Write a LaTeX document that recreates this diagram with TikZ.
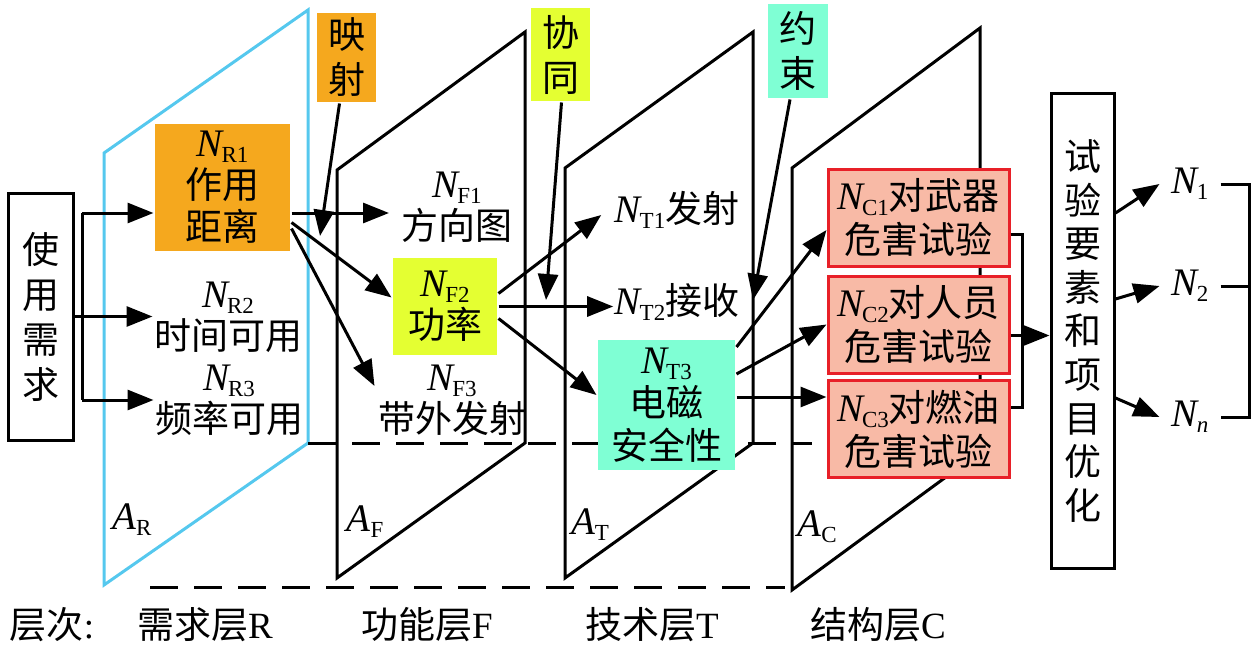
\documentclass[tikz,border=0pt]{standalone}
\usepackage{fontspec}
\setmainfont{Liberation Serif}
\newfontfamily\cjk{Noto Sans CJK SC}
\usetikzlibrary{arrows.meta,calc}
\definecolor{orgC}{RGB}{245,168,30}
\definecolor{yelC}{RGB}{228,255,50}
\definecolor{aquC}{RGB}{127,255,212}
\definecolor{salC}{RGB}{248,186,166}
\definecolor{redC}{RGB}{232,32,40}
\definecolor{cyaC}{RGB}{85,200,238}
\newcommand{\Nx}[1]{{\rmfamily\itshape\fontsize{39}{42}\selectfont N}\kern-1pt\raisebox{-6pt}{\rmfamily\fontsize{23}{23}\selectfont #1}}
\newcommand{\Ax}[1]{{\rmfamily\itshape\fontsize{39}{42}\selectfont A}\raisebox{-6pt}{\rmfamily\fontsize{23}{23}\selectfont #1}}
\begin{document}
\begin{tikzpicture}[x=1pt,y=-1pt,line width=3pt,
  every node/.style={font=\fontsize{37}{42}\selectfont, inner sep=0pt, align=center},
  arr/.style={-{Triangle[length=26pt,width=20pt]}, line width=3pt},
  dsh/.style={dash pattern=on 28pt off 16pt, line width=3pt},
  vtxt/.style={font=\fontsize{37}{45}\selectfont\cjk},
  cbox/.style={fill=salC, draw=redC, line width=3pt, minimum width=181pt, minimum height=97pt, font=\fontsize{37}{44}\selectfont}]
\useasboundingbox (0,0) rectangle (1260,650);
% planes
\draw[cyaC] (104,585) -- (104,153) -- (308,10) -- (308,443) -- cycle;
\draw (337,578) -- (337,170) -- (525,32) -- (525,443) -- cycle;
\draw (565,578) -- (565,168) -- (753,32) -- (753,443) -- cycle;
\draw (792,590) -- (792,168) -- (980,28) -- (980,452) -- cycle;
% dashed lines
\draw[dsh] (308,443) -- (812,443);
\draw[dsh] (150,587) -- (785,587);
% nodes
\node[draw, minimum width=65pt, minimum height=247pt, vtxt] (use) at (40.5,316.5) {使\\用\\需\\求};
\node[fill=orgC, minimum width=135pt, minimum height=127pt] (nr1) at (222.5,187.5) {\Nx{R1}\\{\cjk 作用}\\{\cjk 距离}};
\node (nr2) at (228,317) {\Nx{R2}\\{\cjk 时间可用}};
\node (nr3) at (229,400) {\Nx{R3}\\{\cjk 频率可用}};
\node[fill=orgC, minimum width=59pt, minimum height=89pt, vtxt] (ys) at (346.5,57.5) {映\\射};
\node (nf1) at (457,207) {\Nx{F1}\\{\cjk 方向图}};
\node[fill=yelC, minimum width=104pt, minimum height=97pt] (nf2) at (445,306.5) {\Nx{F2}\\{\cjk 功率}};
\node (nf3) at (452,400) {\Nx{F3}\\{\cjk 带外发射}};
\node[fill=yelC, minimum width=59pt, minimum height=93pt, vtxt] (xt) at (560.5,54.5) {协\\同};
\node (nt1) at (677,210) {\Nx{T1}{\cjk 发射}};
\node (nt2) at (677,302) {\Nx{T2}{\cjk 接收}};
\node[fill=aquC, minimum width=137pt, minimum height=130pt, font=\fontsize{37}{43}\selectfont] (nt3) at (666.5,405) {\Nx{T3}\\{\cjk 电磁}\\{\cjk 安全性}};
\node[fill=aquC, minimum width=60pt, minimum height=94pt, vtxt] (ys2) at (798,51) {约\\束};
\node[cbox] (c1) at (918.5,218) {\Nx{C1}{\cjk 对武器}\\{\cjk 危害试验}};
\node[cbox] (c2) at (918.5,324.5) {\Nx{C2}{\cjk 对人员}\\{\cjk 危害试验}};
\node[cbox] (c3) at (918.5,429) {\Nx{C3}{\cjk 对燃油}\\{\cjk 危害试验}};
\node[draw, minimum width=63pt, minimum height=474pt, font=\fontsize{37}{43.6}\selectfont\cjk] (opt) at (1082.5,331) {试\\验\\要\\素\\和\\项\\目\\优\\化};
\node[minimum width=58pt] (n1) at (1190,184) {\Nx{1}};
\node[minimum width=58pt] (n2) at (1190,286) {\Nx{2}};
\node[minimum width=58pt] (nn) at (1190,417) {\Nx{\itshape n}};
% plane labels
\node (ar) at (132,520) {\Ax{R}};
\node (af) at (365,522) {\Ax{F}};
\node (at) at (590,525) {\Ax{T}};
\node (ac) at (817,527) {\Ax{C}};
% bottom labels
\node (l0) at (52,625) {{\cjk 层次}:};
\node (l1) at (205,625) {{\cjk 需求层}R};
\node (l2) at (427,625) {{\cjk 功能层}F};
\node (l3) at (652,625) {{\cjk 技术层}T};
\node (l4) at (878,625) {{\cjk 结构层}C};
% connectors
\coordinate (bt) at (82,213);
\coordinate (bb) at (82,400);
\coordinate (m1) at (320,236);
\coordinate (m2) at (546,300);
\coordinate (m3) at (753,300);
\coordinate (bx) at (1249,300);
\draw (bt) -- (bb);
\draw[arr] (use.east) -- (use.east -| nr2.west);
\draw[arr] (bt) -- (bt -| nr1.west);
\draw[arr] (bb) -- (bb -| nr3.west);
\draw[arr] (bt -| nr1.east) -- ([xshift=-11pt]bt -| nf1.west);
\draw[arr] ([yshift=-35pt]nr1.east) -- ([yshift=9pt]nf2.west);
\draw[arr] ([yshift=-41pt]nr1.east) -- ([shift={(-2pt,14pt)}]nf3.west);
\draw[arr] ([xshift=-7pt]ys.south) -- (m1);
\draw[arr] ([yshift=13pt]nf2.east) -- ([shift={(-12pt,-5pt)}]nt1.west);
\draw[arr] (nf2.east) -- (nf2.east -| nt2.west);
\draw[arr] ([yshift=-12pt]nf2.east) -- ([yshift=10pt]nt3.west);
\draw[arr] ([xshift=1pt]xt.south) -- (m2);
\draw[arr] ([xshift=-8pt]ys2.south) -- (m3);
\draw[arr] ([yshift=58pt]nt3.east) -- ([yshift=-12pt]c1.west);
\draw[arr] ([yshift=31pt]nt3.east) -- (c2.west);
\draw[arr] ([yshift=8pt]nt3.east) -- ([yshift=8pt]nt3.east -| c3.west);
\draw ([yshift=-16pt]c1.east) -- ++(12pt,0) |- ([yshift=22pt]c3.east);
\draw[arr] ([yshift=-11pt]c2.east) -- ([yshift=-11pt]c2.east -| opt.west);
\draw[arr] ([yshift=118pt]opt.east) -- (n1.west);
\draw[arr] ([yshift=32pt]opt.east) -- (n2.west);
\draw[arr] ([yshift=-67pt]opt.east) -- (nn.west);
\draw (n1.east) -- (n1.east -| bx) -- (nn.east -| bx) -- (nn.east);
\draw (n2.east) -- (n2.east -| bx);
\end{tikzpicture}
\end{document}
